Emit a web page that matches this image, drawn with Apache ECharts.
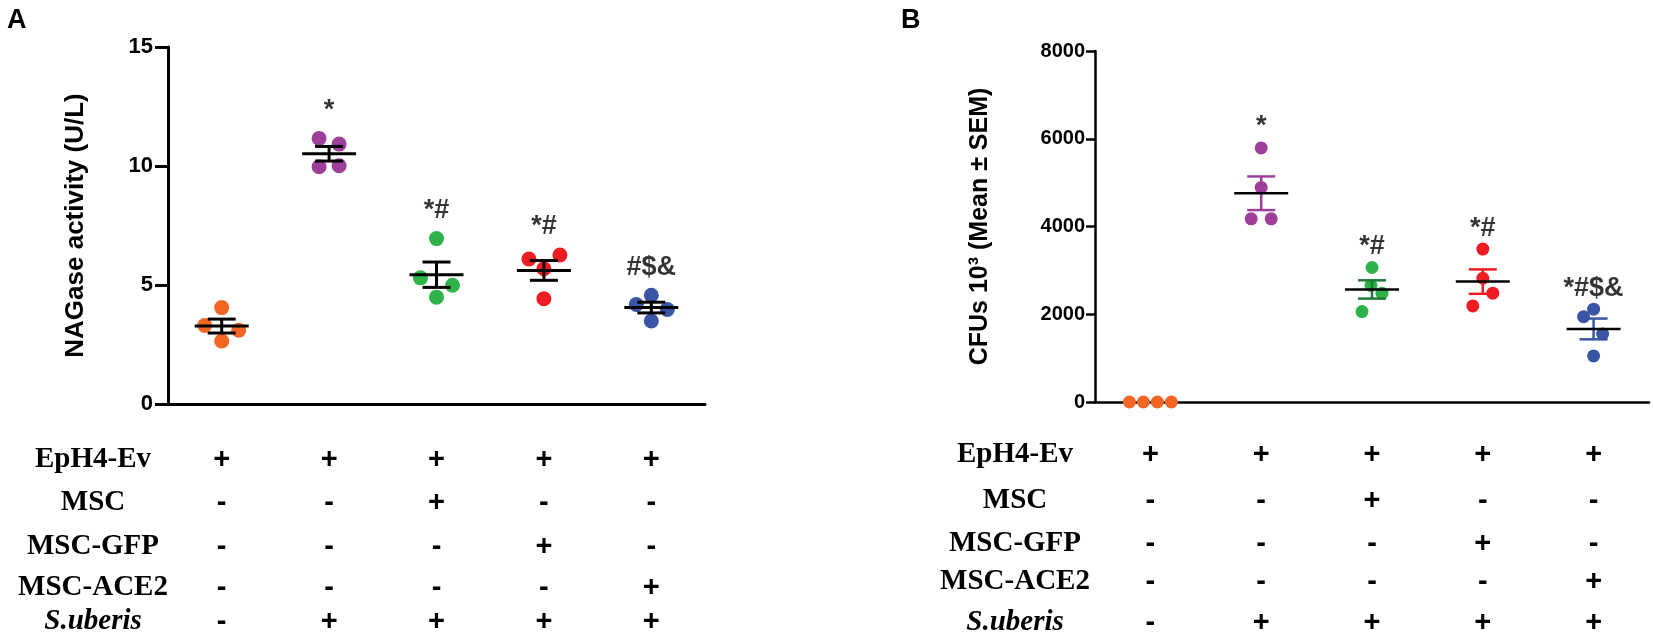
<!DOCTYPE html>
<html>
<head>
<meta charset="utf-8">
<script src="https://cdn.jsdelivr.net/npm/echarts@6/dist/echarts.min.js"></script>
<style>
  html, body { margin: 0; padding: 0; background: #fff; }
  #main { width: 1654px; height: 640px; }
</style>
</head>
<body>
<div id="main"></div>
<script>
// groups, left to right
var groups = ['Control', 'S.uberis', 'MSC', 'MSC-GFP', 'MSC-ACE2'];

// panel A: NAGase activity (U/L), 4 animals per group
var nagControl = [4.05, 3.3, 3.1, 2.65];
var nagSuberis = [11.16, 10.92, 9.97, 10.01];
var nagMsc = [6.95, 5.3, 4.99, 4.49];
var nagGfp = [6.09, 6.26, 5.68, 4.42];
var nagAce2 = [4.57, 4.18, 3.97, 3.49];

// panel B: CFUs 10^3
var cfuControl = [0, 0, 0, 0];
var cfuSuberis = [5790, 4890, 4175, 4175];
var cfuMsc = [3065, 2655, 2480, 2060];
var cfuGfp = [3485, 2820, 2480, 2190];
var cfuAce2 = [2115, 1945, 1550, 1050];

var ticksA = [0, 5, 10, 15];
var ticksB = [0, 2000, 4000, 6000, 8000];

// significance marks
var sigA = ['', '*', '*#', '*#', '#$&'];
var sigB = ['', '*', '*#', '*#', '*#$&'];

// treatment table under each panel
var rowNames = ['EpH4-Ev', 'MSC', 'MSC-GFP', 'MSC-ACE2', 'S.uberis'];
var rowEph4 = ['+', '+', '+', '+', '+'];
var rowMsc = ['-', '-', '+', '-', '-'];
var rowGfp = ['-', '-', '-', '+', '-'];
var rowAce2 = ['-', '-', '-', '-', '+'];
var rowSuberis = ['-', '+', '+', '+', '+'];

// styles / layout
var dotColors = ['#F26522', '#9E3F99', '#2DB34A', '#EE1D23', '#3A55A5'];
var barColorsA = ['#000', '#000', '#000', '#000', '#000'];
var barColorsB = ['#000', '#9E3F99', '#1F7A36', '#EE1D23', '#3A55A5'];
// horizontal spread of the dots, px
var jitA = [[0, -17, 17, 0], [-10, 10, -10, 10], [0, -16, 16, 0], [-15, 16, 0, 0], [0, -15, 16, 0]];
var jitB = [[-21, -7, 7, 21], [0, 0, -10, 10], [0, -1, 10, -10], [0, 0, 10, -10], [0, -10, 9, 0]];
var rowYA = [460, 503, 547, 588, 622];
var rowYB = [455, 501, 544, 582, 623];
var gA = { left: 168, top: 47, width: 537, height: 357 };
var gB = { left: 1095, top: 51, width: 554, height: 351 };

var sans = 'Liberation Sans, Arial, sans-serif';
var serif = 'Liberation Serif, Times New Roman, serif';

var setsA = [nagControl, nagSuberis, nagMsc, nagGfp, nagAce2];
var setsB = [cfuControl, cfuSuberis, cfuMsc, cfuGfp, cfuAce2];
var rows = [rowEph4, rowMsc, rowGfp, rowAce2, rowSuberis];

function mean(a) { return a.reduce(function (s, v) { return s + v; }, 0) / a.length; }
function sem(a) {
  var m = mean(a);
  var ss = a.reduce(function (s, v) { return s + (v - m) * (v - m); }, 0);
  return Math.sqrt(ss / (a.length - 1)) / Math.sqrt(a.length);
}

function dotSeries(xi, yi, sets, jit, size) {
  var data = [];
  sets.forEach(function (a, g) {
    a.forEach(function (v, k) {
      data.push({ value: [g, v], symbolOffset: [jit[g][k], 0], itemStyle: { color: dotColors[g], opacity: 1 } });
    });
  });
  return { type: 'scatter', xAxisIndex: xi, yAxisIndex: yi, symbolSize: size, clip: false, silent: true, z: 3,
    itemStyle: { opacity: 1 }, data: data };
}

function meanSeries(xi, yi, sets, colors, lw) {
  return {
    type: 'custom', xAxisIndex: xi, yAxisIndex: yi, z: 5, silent: true, clip: false,
    data: sets.map(function (a, i) { return [i, mean(a), sem(a)]; }),
    renderItem: function (params, api) {
      var i = api.value(0), m = api.value(1), s = api.value(2);
      if (m === 0 && s === 0) return { type: 'group', children: [] };
      var c = api.coord([i, m]), hi = api.coord([i, m + s]), lo = api.coord([i, m - s]);
      var st = { stroke: colors[params.dataIndex], lineWidth: lw };
      return {
        type: 'group',
        children: [
          { type: 'line', shape: { x1: c[0], y1: hi[1], x2: c[0], y2: lo[1] }, style: st },
          { type: 'line', shape: { x1: c[0] - 14, y1: hi[1], x2: c[0] + 14, y2: hi[1] }, style: st },
          { type: 'line', shape: { x1: c[0] - 14, y1: lo[1], x2: c[0] + 14, y2: lo[1] }, style: st },
          { type: 'line', shape: { x1: c[0] - 27, y1: c[1], x2: c[0] + 27, y2: c[1] }, style: { stroke: '#000', lineWidth: lw } }
        ]
      };
    }
  };
}

function sigSeries(xi, yi, sets, sig, dy) {
  return {
    type: 'scatter', xAxisIndex: xi, yAxisIndex: yi, symbolSize: 1, clip: false, silent: true, z: 6,
    itemStyle: { color: 'transparent' },
    data: sets.map(function (a, i) { return [i, Math.max.apply(null, a)]; }),
    label: {
      show: true, position: 'inside', offset: [0, dy],
      formatter: function (p) { return sig[p.dataIndex]; },
      fontFamily: sans, fontWeight: 'bold', fontSize: 27, color: '#000'
    }
  };
}

function mainX(gi, lw, tickLen) {
  return {
    type: 'category', gridIndex: gi, data: groups, boundaryGap: true,
    axisLine: { lineStyle: { color: '#000', width: lw } },
    axisTick: { alignWithLabel: true, length: tickLen, lineStyle: { width: lw } },
    axisLabel: { show: false }
  };
}

function tableX(gi, r, rowY, bottom, nameGap) {
  var vals = rows[r];
  return {
    type: 'category', gridIndex: gi, data: groups, position: 'bottom', offset: rowY[r] - bottom,
    axisLine: { show: false }, axisTick: { show: false },
    axisLabel: {
      interval: 0, margin: 0, verticalAlign: 'middle',
      formatter: function (v, i) { return vals[i]; },
      fontFamily: sans, fontWeight: 'bold', fontSize: 29, color: '#000'
    },
    name: rowNames[r], nameLocation: 'start', nameGap: nameGap,
    nameTextStyle: {
      align: 'center', verticalAlign: 'middle', fontFamily: serif, fontWeight: 'bold',
      fontStyle: r === 4 ? 'italic' : 'normal', fontSize: 29, color: '#000'
    }
  };
}

function yAx(gi, ticks, name, nameGap, nameSize, lw, tickLen, margin, labelSize) {
  return {
    type: 'value', gridIndex: gi, min: ticks[0], max: ticks[ticks.length - 1], interval: ticks[1] - ticks[0],
    axisLine: { show: true, lineStyle: { color: '#000', width: lw } },
    axisTick: { show: true, length: tickLen, lineStyle: { width: lw } },
    splitLine: { show: false },
    axisLabel: { margin: margin, fontFamily: sans, fontWeight: 'bold', fontSize: labelSize, color: '#000',
      formatter: function (v) { return String(v); } },
    name: name, nameLocation: 'middle', nameGap: nameGap,
    nameTextStyle: { fontFamily: sans, fontWeight: 'bold', fontSize: nameSize, color: '#000' }
  };
}

var xAxes = [mainX(0, 3, 15)];
for (var r = 0; r < 5; r++) xAxes.push(tableX(0, r, rowYA, gA.top + gA.height, 75));
xAxes.push(mainX(1, 2.5, 11));
for (var r2 = 0; r2 < 5; r2++) xAxes.push(tableX(1, r2, rowYB, gB.top + gB.height, 80));

var chart = echarts.init(document.getElementById('main'));
chart.setOption({
  animation: false,
  backgroundColor: '#fff',
  title: [
    { text: 'A', left: 2, top: 2, textStyle: { fontFamily: sans, fontWeight: 'bold', fontSize: 27, color: '#000' } },
    { text: 'B', left: 896, top: 2, textStyle: { fontFamily: sans, fontWeight: 'bold', fontSize: 27, color: '#000' } }
  ],
  grid: [
    { left: gA.left, top: gA.top, width: gA.width, height: gA.height, outerBoundsMode: 'none' },
    { left: gB.left, top: gB.top, width: gB.width, height: gB.height, outerBoundsMode: 'none' }
  ],
  xAxis: xAxes,
  yAxis: [
    yAx(0, ticksA, 'NAGase activity (U/L)', 79, 26, 3, 13, 15, 22),
    yAx(1, ticksB, 'CFUs 10\u00B3 (Mean \u00B1 SEM)', 102, 25, 2.5, 9, 10, 20)
  ],
  series: [
    dotSeries(0, 0, setsA, jitA, 15),
    meanSeries(0, 0, setsA, barColorsA, 3),
    sigSeries(0, 0, setsA, sigA, -28),
    dotSeries(6, 1, setsB, jitB, 13),
    meanSeries(6, 1, setsB, barColorsB, 2.5),
    sigSeries(6, 1, setsB, sigB, -21)
  ]
});
</script>
</body>
</html>
